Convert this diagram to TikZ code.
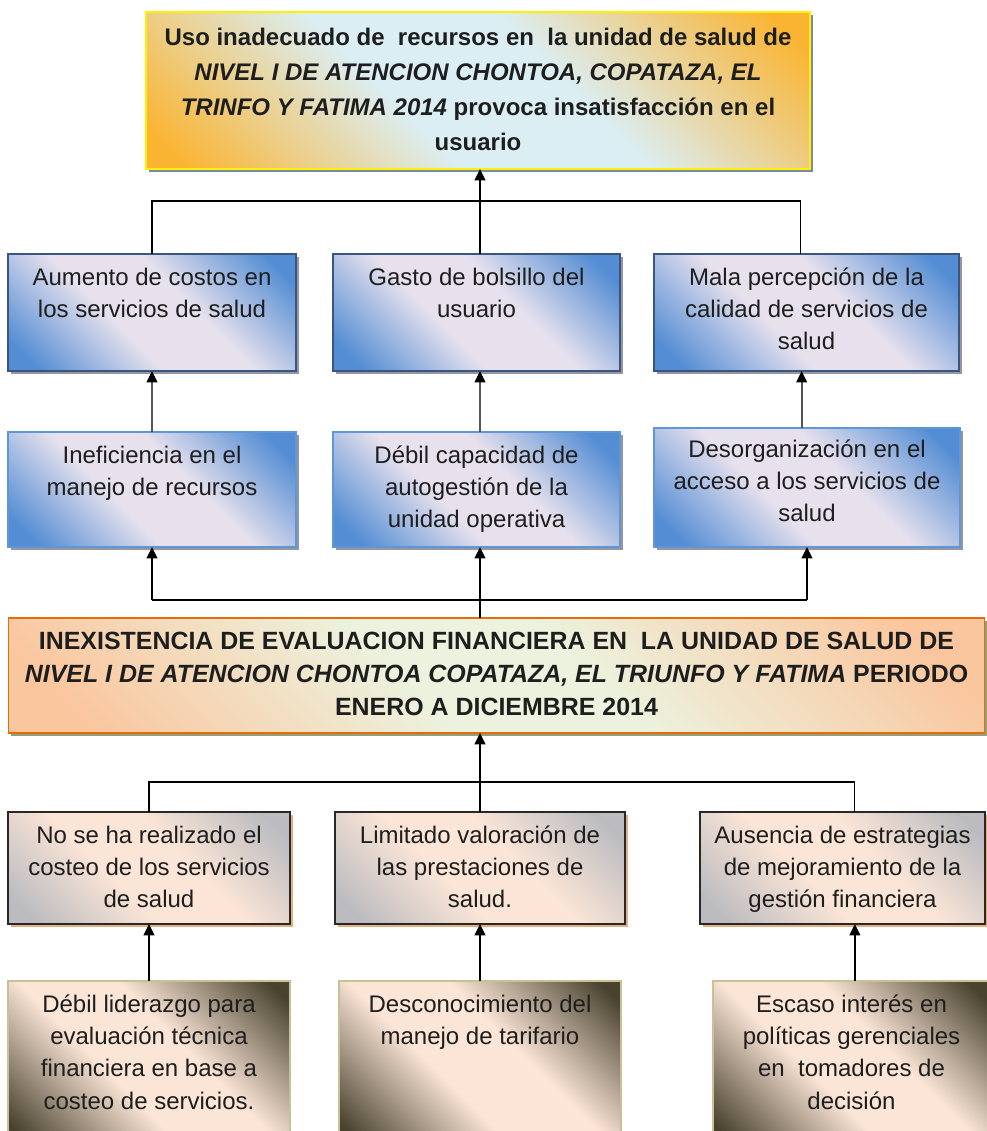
\documentclass[tikz,border=0pt]{standalone}
\usepackage{fontspec}
\setmainfont{Liberation Sans}
\usetikzlibrary{arrows.meta}
\definecolor{cBlue}{RGB}{84,141,212}
\definecolor{cLav}{RGB}{231,225,237}
\definecolor{cOrg}{RGB}{250,180,50}
\definecolor{cSky}{RGB}{219,238,244}
\definecolor{cPeach}{RGB}{250,198,158}
\definecolor{cGreen}{RGB}{236,242,222}
\definecolor{cGrey}{RGB}{188,188,192}
\definecolor{cSkin}{RGB}{251,229,214}
\definecolor{cOlive}{RGB}{72,66,46}
\definecolor{cTxt}{RGB}{30,30,30}
\pgfdeclarehorizontalshading{blueSh}{100bp}{color(0bp)=(cBlue); color(20bp)=(cBlue); color(42bp)=(cLav); color(58bp)=(cLav); color(80bp)=(cBlue); color(100bp)=(cBlue)}
\pgfdeclarehorizontalshading{topSh}{100bp}{color(0bp)=(cOrg); color(18bp)=(cOrg); color(42bp)=(cSky); color(58bp)=(cSky); color(82bp)=(cOrg); color(100bp)=(cOrg)}
\pgfdeclarehorizontalshading{midSh}{100bp}{color(0bp)=(cPeach); color(20bp)=(cPeach); color(44bp)=(cGreen); color(56bp)=(cGreen); color(80bp)=(cPeach); color(100bp)=(cPeach)}
\pgfdeclarehorizontalshading{greySh}{100bp}{color(0bp)=(cGrey); color(20bp)=(cGrey); color(42bp)=(cSkin); color(58bp)=(cSkin); color(80bp)=(cGrey); color(100bp)=(cGrey)}
\pgfdeclarehorizontalshading{oliveSh}{100bp}{color(0bp)=(cOlive); color(18bp)=(cOlive); color(42bp)=(cSkin); color(58bp)=(cSkin); color(82bp)=(cOlive); color(100bp)=(cOlive)}
\tikzset{
  base/.style={rectangle, inner sep=0pt, outer sep=0pt, shading angle=45},
  topbox/.style={base, shading=topSh, draw={rgb,255:red,255;green,240;blue,0}, line width=1.5pt,
     preaction={fill={rgb,255:red,120;green,140;blue,165}, transform canvas={xshift=2.2pt,yshift=-2.5pt}}},
  bluebox/.style={base, shading=blueSh, draw={rgb,255:red,56;green,86;blue,128}, line width=1.1pt,
     preaction={fill={rgb,255:red,150;green,150;blue,160}, transform canvas={xshift=2.2pt,yshift=-2.5pt}}},
  bluebox2/.style={bluebox, draw={rgb,255:red,95;green,150;blue,215}},
  midbox/.style={base, shading=midSh, draw={rgb,255:red,228;green,108;blue,10}, line width=1.4pt,
     preaction={fill={rgb,255:red,150;green,160;blue,120}, transform canvas={xshift=2.2pt,yshift=-2.5pt}}},
  greybox/.style={base, shading=greySh, draw={rgb,255:red,40;green,40;blue,40}, line width=1.1pt,
     preaction={fill={rgb,255:red,230;green,175;blue,130}, transform canvas={xshift=2.2pt,yshift=-2.5pt}}},
  olivebox/.style={base, shading=oliveSh, draw={rgb,255:red,200;green,192;blue,150}, line width=1pt},
  txt/.style={inner sep=0pt, align=center, text=cTxt, anchor=north, font=\fontsize{18}{24}\selectfont},
  toptxt/.style={txt, font=\bfseries\fontsize{18}{26.25}\selectfont},
  midtxt/.style={txt, font=\bfseries\fontsize{18.7}{24.75}\selectfont},
  ln/.style={draw=black, line width=1.3pt},
  arr/.style={ln, -{Triangle[length=8.5pt,width=8pt]}},
  arrg/.style={arr, draw={rgb,255:red,85;green,85;blue,85}, -{Triangle[length=8.5pt,width=8pt,color=black]}},
}
\begin{document}
\begin{tikzpicture}[x=0.75pt, y=-0.75pt]
\useasboundingbox (0,0) rectangle (987,1131);
\clip (0,0) rectangle (987,1131);
\fill[white] (0,0) rectangle (987,1131);

% top
\node[topbox, minimum width=498pt, minimum height=117.75pt] (t) at (478,90.5) {};
\node[toptxt] (tt) at ([yshift=-12pt]t.north) {Uso inadecuado de\ \ recursos en\ \ la unidad de salud de\\ \textit{NIVEL I DE ATENCION CHONTOA, COPATAZA, EL}\\ \textit{TRINFO Y FATIMA 2014} provoca insatisfacción en el\\ usuario};

% effects row 1
\node[bluebox, minimum width=216pt, minimum height=87.75pt] (e1) at (152,312.5) {};
\node[bluebox, minimum width=215.25pt, minimum height=87.75pt] (e2) at (476.5,312.5) {};
\node[bluebox, minimum width=228.75pt, minimum height=87.75pt] (e3) at (806.5,312.5) {};
\node[txt] (e1t) at ([yshift=-10.5pt]e1.north) {Aumento de costos en\\ los servicios de salud};
\node[txt] (e2t) at ([yshift=-10.5pt]e2.north) {Gasto de bolsillo del\\ usuario};
\node[txt] (e3t) at ([yshift=-10.5pt]e3.north) {Mala percepción de la\\ calidad de servicios de\\ salud};

% effects row 2
\node[bluebox2, minimum width=216pt, minimum height=86.25pt] (d1) at (152,489.5) {};
\node[bluebox2, minimum width=215.25pt, minimum height=86.25pt] (d2) at (476.5,489.5) {};
\node[bluebox2, minimum width=229.5pt, minimum height=89.25pt] (d3) at (807,487.5) {};
\node[txt] (d1t) at ([yshift=-10.5pt]d1.north) {Ineficiencia en el\\ manejo de recursos};
\node[txt] (d2t) at ([yshift=-10.5pt]d2.north) {Débil capacidad de\\ autogestión de la\\ unidad operativa};
\node[txt] (d3t) at ([yshift=-9pt]d3.north) {Desorganización en el\\ acceso a los servicios de\\ salud};

% central problem
\node[midbox, minimum width=732pt, minimum height=86.25pt] (p) at (496.5,675.5) {};
\node[midtxt] (pt) at ([yshift=-10pt]p.north) {INEXISTENCIA DE EVALUACION FINANCIERA EN\ \ LA UNIDAD DE SALUD DE\\ \textit{NIVEL I DE ATENCION CHONTOA COPATAZA, EL TRIUNFO Y FATIMA} PERIODO\\ ENERO A DICIEMBRE 2014};

% causes row 1
\node[greybox, minimum width=211.5pt, minimum height=84pt] (c1) at (149,868) {};
\node[greybox, minimum width=217.5pt, minimum height=84pt] (c2) at (480,868) {};
\node[greybox, minimum width=213.75pt, minimum height=84pt] (c3) at (842.5,868) {};
\node[txt] (c1t) at ([yshift=-10.5pt]c1.north) {No se ha realizado el\\ costeo de los servicios\\ de salud};
\node[txt] (c2t) at ([yshift=-10.5pt]c2.north) {Limitado valoración de\\ las prestaciones de\\ salud.};
\node[txt] (c3t) at ([yshift=-10.5pt]c3.north) {Ausencia de estrategias\\ de mejoramiento de la\\ gestión financiera};

% causes row 2
\node[olivebox, minimum width=211.5pt, minimum height=123pt] (b1) at (149,1063) {};
\node[olivebox, minimum width=211.5pt, minimum height=123pt] (b2) at (480,1063) {};
\node[olivebox, minimum width=207.75pt, minimum height=123pt] (b3) at (851.5,1063) {};
\node[txt, font=\fontsize{18}{24.25}\selectfont] (b1t) at ([yshift=-10pt]b1.north) {Débil liderazgo para\\ evaluación técnica\\ financiera en base a\\ costeo de servicios.};
\node[txt, font=\fontsize{18}{24.25}\selectfont] (b2t) at ([yshift=-10pt]b2.north) {Desconocimiento del\\ manejo de tarifario};
\node[txt, font=\fontsize{18}{24.25}\selectfont] (b3t) at ([yshift=-10pt]b3.north) {Escaso interés en\\ políticas gerenciales\\ en\ \ tomadores de\\ decisión};

% anchor points on box edges, where the reference joins them
\coordinate (e3n) at ([xshift=-4.5pt]e3.north);
\coordinate (e3s) at ([xshift=-4pt]e3.south);
\coordinate (d3n) at ([xshift=-4pt]d3.north);
\coordinate (c3n) at ([xshift=9pt]c3.north);
\coordinate (c3s) at ([xshift=9pt]c3.south);
\coordinate (b3n) at ([xshift=2.5pt]b3.north);

% connectors: effects -> top
\coordinate (jt) at (480,201);
\draw[ln] (e1.north) |- (jt) -| (e3n);
\draw[arr] (e2.north -| jt) -- (jt |- t.south);
\draw[arrg] (d1.north) -- (e1.south);
\draw[arrg] (d2.north -| jt) -- (jt |- e2.south);
\draw[arrg] (d3n) -- (d3n |- e3s);

% central -> effects
\coordinate (jm) at (480,600);
\draw[ln] (d1.south |- jm) -- (d3.south |- jm);
\draw[arr] (d1.south |- jm) -- (d1.south);
\draw[arr] (d3.south |- jm) -- (d3.south);
\draw[arr] (p.north -| jm) -- (jm |- d2.south);

% causes -> central
\coordinate (jb) at (480,782);
\draw[ln] (c1.north) |- (jb) -| (c3n);
\draw[arr] (c2.north) -- (c2.north |- p.south);
\draw[arr] (b1.north) -- (b1.north |- c1.south);
\draw[arr] (b2.north) -- (b2.north |- c2.south);
\draw[arr] (b3n) -- (b3n |- c3s);
\end{tikzpicture}
\end{document}
